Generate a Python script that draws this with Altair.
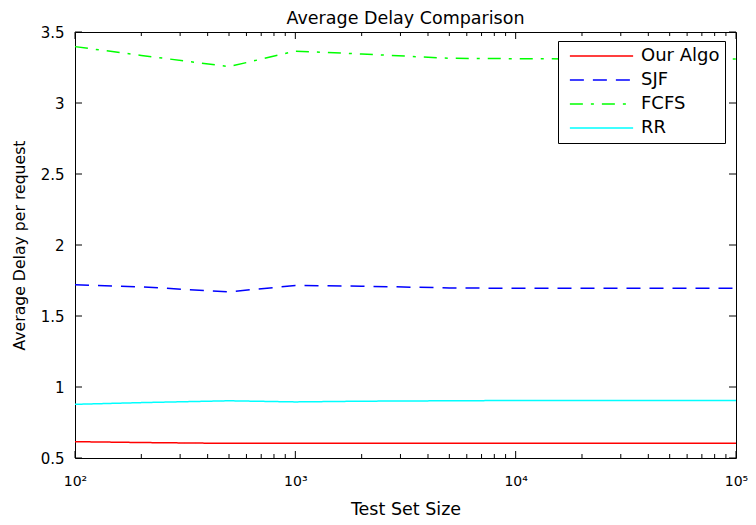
import altair as alt
import pandas as pd

# ---- data ----
test_set_size = [100, 200, 500, 1000, 2000, 5000, 10000, 20000, 50000, 100000]
our_algo = [0.615, 0.609, 0.603, 0.603, 0.603, 0.603, 0.603, 0.603, 0.603, 0.603]
sjf = [1.720, 1.705, 1.670, 1.715, 1.710, 1.698, 1.695, 1.695, 1.695, 1.695]
fcfs = [3.397, 3.335, 3.256, 3.365, 3.345, 3.315, 3.312, 3.310, 3.310, 3.310]
rr = [0.878, 0.890, 0.903, 0.895, 0.900, 0.903, 0.905, 0.905, 0.905, 0.905]

series_names = ["Our Algo", "SJF", "FCFS", "RR"]
series_colors = ["#ff0000", "#0000ff", "#00ff00", "#00ffff"]
series_dashes = [[1, 0], [14, 9], [13, 8, 3, 8], [1, 0]]

x_tick_values = [100, 1000, 10000, 100000]
x_tick_labels = ["10²", "10³", "10⁴", "10⁵"]
x_minor_ticks = [200, 300, 400, 500, 600, 700, 800, 900,
                 2000, 3000, 4000, 5000, 6000, 7000, 8000, 9000,
                 20000, 30000, 40000, 50000, 60000, 70000, 80000, 90000]
y_tick_values = [0.5, 1, 1.5, 2, 2.5, 3, 3.5]
y_tick_labels = ["0.5", "1", "1.5", "2", "2.5", "3", "3.5"]

W, H = 661, 426
FONT = "DejaVu Sans"

rows = []
for name, vals in zip(series_names, [our_algo, sjf, fcfs, rr]):
    for xv, yv in zip(test_set_size, vals):
        rows.append({"x": xv, "y": yv, "series": name})
df = pd.DataFrame(rows)


def label_expr(values, labels):
    parts = " : ".join(f"datum.value == {v} ? '{l}'" for v, l in zip(values, labels))
    return parts + " : ''"


xscale = alt.Scale(type="log", domain=[100, 100000], nice=False)
yscale = alt.Scale(domain=[0.5, 3.5], nice=False, zero=False)

x_axis = alt.Axis(values=x_tick_values,
                  labelExpr=label_expr(x_tick_values, x_tick_labels),
                  ticks=False, domain=False, grid=False,
                  labelFlush=False, labelOverlap=False, labelBound=False,
                  labelPadding=16, labelFontSize=14, labelFont=FONT,
                  labelColor="black", titleFont=FONT, titleFontSize=17.5,
                  titleFontWeight="normal", titleColor="black",
                  titleBaseline="middle", titleY=51)
y_axis = alt.Axis(values=y_tick_values,
                  labelExpr=label_expr(y_tick_values, y_tick_labels),
                  ticks=False, domain=False, grid=False,
                  labelFlush=False, labelOverlap=False, labelBound=False,
                  labelPadding=11, labelFontSize=15, labelFont=FONT,
                  labelColor="black", titleFont=FONT, titleFontSize=15.7,
                  titleFontWeight="normal", titleColor="black",
                  titleBaseline="middle", titleX=-56)

X_TITLE = "Test Set Size"
Y_TITLE = "Average Delay per request"

legend = alt.Legend(
    title=None, orient="none", legendX=483, legendY=9,
    symbolType="stroke", symbolSize=4000, symbolStrokeWidth=1.5,
    labelFontSize=18, labelFont=FONT, labelColor="black",
    labelExpr="datum.label + '\u00a0'",
    strokeColor="black", fillColor="white", padding=5,
    clipHeight=20, rowPadding=4, symbolOffset=6, labelOffset=7,
    labelLimit=300,
)

lines = alt.Chart(df).mark_line(strokeWidth=1.5).encode(
    x=alt.X("x:Q", scale=xscale, title=X_TITLE, axis=x_axis),
    y=alt.Y("y:Q", scale=yscale, title=Y_TITLE, axis=y_axis),
    color=alt.Color("series:N", scale=alt.Scale(domain=series_names, range=series_colors),
                    legend=legend, sort=series_names),
    strokeDash=alt.StrokeDash("series:N",
                              scale=alt.Scale(domain=series_names, range=series_dashes),
                              legend=legend, sort=series_names),
    order=alt.Order("x:Q"),
)

maj = pd.DataFrame({"x": x_tick_values})
mnr = pd.DataFrame({"x": x_minor_ticks})
yt = pd.DataFrame({"y": y_tick_values})


def xticks(data, y0, y1):
    return alt.Chart(data).mark_rule(color="black", strokeWidth=1).encode(
        x=alt.X("x:Q", scale=xscale, title=X_TITLE, axis=x_axis),
        y=alt.value(y0), y2=alt.value(y1))


def yticks(x0, x1):
    return alt.Chart(yt).mark_rule(color="black", strokeWidth=1).encode(
        y=alt.Y("y:Q", scale=yscale, title=Y_TITLE, axis=y_axis),
        x=alt.value(x0), x2=alt.value(x1))


chart = alt.layer(
    lines,
    xticks(maj, H, H - 7), xticks(maj, 0, 7),
    xticks(mnr, H, H - 4), xticks(mnr, 0, 4),
    yticks(0, 7), yticks(W, W - 7),
).properties(
    width=W, height=H,
    title=alt.TitleParams("Average Delay Comparison", font=FONT, fontSize=17.5,
                          fontWeight="normal", color="black", offset=6, dy=8,
                          frame="group"),
    padding={"left": 67, "top": 24, "right": 12, "bottom": 59},
    autosize=alt.AutoSizeParams(type="none"),
).configure(background="white").configure_view(stroke="black", strokeWidth=1)

chart.save("out.html", embed_options={"renderer": "svg", "actions": False})
